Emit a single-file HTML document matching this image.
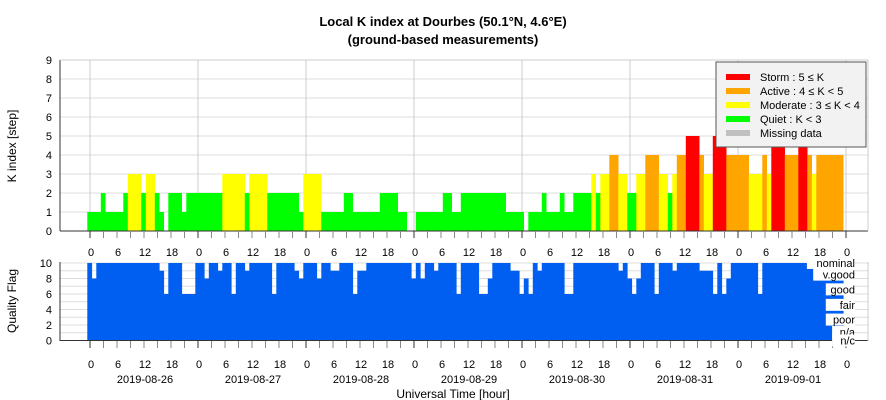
<!DOCTYPE html>
<html><head><meta charset="utf-8">
<style>
body{margin:0;background:#fff;}
svg{display:block;font-family:"Liberation Sans",sans-serif;}
</style></head>
<body>
<svg id="chart" width="886" height="400" viewBox="0 0 886 400" xmlns="http://www.w3.org/2000/svg">
<text x="443" y="26" text-anchor="middle" font-size="13" font-weight="bold">Local K index at Dourbes (50.1°N, 4.6°E)</text>
<text x="443" y="44" text-anchor="middle" font-size="13" font-weight="bold">(ground-based measurements)</text>
<g id="topg"></g>
<g id="botg"></g>
<text transform="translate(16,146) rotate(-90)" text-anchor="middle" font-size="12">K index [step]</text>
<text transform="translate(16,301) rotate(-90)" text-anchor="middle" font-size="12">Quality Flag</text>
<text x="453" y="398" text-anchor="middle" font-size="12">Universal Time [hour]</text>
<g>
<rect x="716" y="62" width="150" height="85" fill="#f2f2f2" stroke="#555" stroke-width="1"/>
<line x1="726" y1="77" x2="750" y2="77" stroke="#ff0000" stroke-width="6"/>
<text x="760" y="81" font-size="11">Storm : 5 ≤ K</text>
<line x1="726" y1="91" x2="750" y2="91" stroke="#ffa500" stroke-width="6"/>
<text x="760" y="95" font-size="11">Active : 4 ≤ K &lt; 5</text>
<line x1="726" y1="105" x2="750" y2="105" stroke="#ffff00" stroke-width="6"/>
<text x="760" y="109" font-size="11">Moderate : 3 ≤ K &lt; 4</text>
<line x1="726" y1="119" x2="750" y2="119" stroke="#00ff00" stroke-width="6"/>
<text x="760" y="123" font-size="11">Quiet : K &lt; 3</text>
<line x1="726" y1="133" x2="750" y2="133" stroke="#c0c0c0" stroke-width="6"/>
<text x="760" y="137" font-size="11">Missing data</text>
</g>
</svg>
<script>
// hourly K values from 2019-08-26 00 UT (segments [start,end) in hours)
const segStart=[0,3,4,8,9,12,13,15,16,18,21,22,30,35,36,40,47,48,52,57,59,65,69,73,79,81,83,93,98,101,102,105,106,108,112,113,114,116,118,120,122,124,127,129,130,131,133,136,137,139,142,147,150,151,152,155,158,160,161,162];
const segEnd=[3,4,8,9,12,13,15,16,17,21,22,30,35,36,40,47,48,52,57,59,65,69,71,79,81,83,93,97,101,102,105,106,108,112,113,114,116,118,120,122,124,127,129,130,131,133,136,137,139,142,147,150,151,152,155,158,160,161,162,168];
const segK=[1,2,1,2,3,2,3,2,1,2,1,2,3,2,3,2,1,3,1,2,1,2,1,1,2,1,2,1,1,2,1,2,1,2,3,2,3,4,3,2,3,4,3,2,3,4,5,4,3,5,4,3,4,3,5,4,5,4,3,4];
// quality flag dips (hour, value); all other hours = 10
const qHour=[1,16,17,21,22,23,26,29,32,35,41,46,47,51,54,55,59,60,61,72,74,77,82,87,88,89,94,95,96,97,98,100,106,107,118,120,121,122,126,130,136,137,138,139,141,142,149];
const qVal=[8,9,6,6,6,6,8,9,6,9,6,9,8,8,9,9,6,9,9,8,8,9,6,6,6,8,9,9,6,8,6,9,6,6,9,8,6,8,6,9,9,9,9,6,6,8,6];
const kTicks=[0,1,2,3,4,5,6,7,8,9];
const qTicks=[0,2,4,6,8,10];
const hourLabels=["0","6","12","18"];
const dates=["2019-08-26","2019-08-27","2019-08-28","2019-08-29","2019-08-30","2019-08-31","2019-09-01"];

const NS="http://www.w3.org/2000/svg";
const X0=90, PXH=4.5, L=60, R=868;
const xh=h=>X0+h*PXH;
const yk=k=>231-k*19;
const yq=q=>340.5-q*7.75;
function mk(p,tag,a){const e=document.createElementNS(NS,tag);for(const k in a)e.setAttribute(k,a[k]);p.appendChild(e);return e;}
function col(k){return k>=5?"#ff0000":k>=4?"#ffa500":k>=3?"#ffff00":"#00ff00";}

const topG=document.getElementById("topg"), botG=document.getElementById("botg");
for(const k of kTicks){
  const g=mk(topG,"line",{x1:L,x2:R,y1:yk(k),y2:yk(k),stroke:"#ddd"});
  
  
  const t=mk(topG,"text",{x:52,y:yk(k)+4,"text-anchor":"end","font-size":"11"});
  
  
  t.textContent=k;
}
for(let d=0;d<=7;d++){
  mk(topG,"line",{x1:xh(d*24),x2:xh(d*24),y1:60,y2:231,stroke:"#ccc"});
}
for(let i=0;i<segK.length;i++){
  for(let h=segStart[i];h<segEnd[i];h++){
    const k=segK[i];
    const r=mk(topG,"rect",{x:xh(h-0.6),y:yk(k),width:PXH+0.2,height:yk(0)-yk(k),fill:col(k)});
    
    
  }
}
mk(topG,"line",{x1:L,x2:L,y1:60,y2:231,stroke:"#333"});
mk(topG,"line",{x1:L,x2:R,y1:231,y2:231,stroke:"#333"});
mk(topG,"line",{x1:L,x2:R,y1:60,y2:60,stroke:"#ccc"});
mk(topG,"line",{x1:R,x2:R,y1:60,y2:231,stroke:"#ccc"});
for(let h=0;h<=168;h+=3){
  mk(topG,"line",{x1:xh(h),x2:xh(h),y1:231,y2:238,stroke:(h%24==0)?"#333":"#888"});
  mk(botG,"line",{x1:xh(h),x2:xh(h),y1:341,y2:348,stroke:(h%24==0)?"#333":"#888"});
  if(h%6==0){
    const lab=hourLabels[(h/6)%4];
    const t=mk(topG,"text",{x:xh(h)+1,y:256,"text-anchor":"middle","font-size":"11"});
    
    
    t.textContent=lab;
    const t2=mk(botG,"text",{x:xh(h)+1,y:368,"text-anchor":"middle","font-size":"11"});
    
    
    t2.textContent=lab;
  }
}
dates.forEach((d,i)=>{
  const t=mk(botG,"text",{x:xh(i*24+12)+1,y:383,"text-anchor":"middle","font-size":"11"});
  
  
  t.textContent=d;
});
for(let q=0;q<=10;q++){
  mk(botG,"line",{x1:L,x2:R,y1:yq(q),y2:yq(q),stroke:"#ddd"});
}
for(const q of qTicks){
  const t=mk(botG,"text",{x:52,y:yq(q)+4,"text-anchor":"end","font-size":"11"});
  
  
  t.textContent=q;
}
const qArr=new Array(168).fill(10);
qHour.forEach((h,i)=>qArr[h]=qVal[i]);
for(let h=0;h<168;h++){
  const r=mk(botG,"rect",{x:xh(h-0.6),y:yq(qArr[h]),width:PXH+0.3,height:yq(0)-yq(qArr[h]),fill:"#005ff0"});
  
  
}
mk(botG,"line",{x1:L,x2:L,y1:262,y2:341,stroke:"#333"});
mk(botG,"line",{x1:L,x2:R,y1:340.5,y2:340.5,stroke:"#333"});
mk(botG,"line",{x1:R,x2:R,y1:262,y2:341,stroke:"#ccc"});
const qNames=["nominal","v.good","good","fair","poor","n/a","n/c"];
const qNameVal=[10,8.5,6.6,4.6,2.7,1.1,0];
qNames.forEach((n,i)=>{
  const y=yq(qNameVal[i])+4;
  const w=n.length*6.3+4;
  mk(botG,"rect",{x:855-w,y:y-10,width:w,height:12,fill:"#fff"});
  const t=mk(botG,"text",{x:855,y:y,"text-anchor":"end","font-size":"11"});
  
  
  t.textContent=n;
});
</script>
</body></html>
